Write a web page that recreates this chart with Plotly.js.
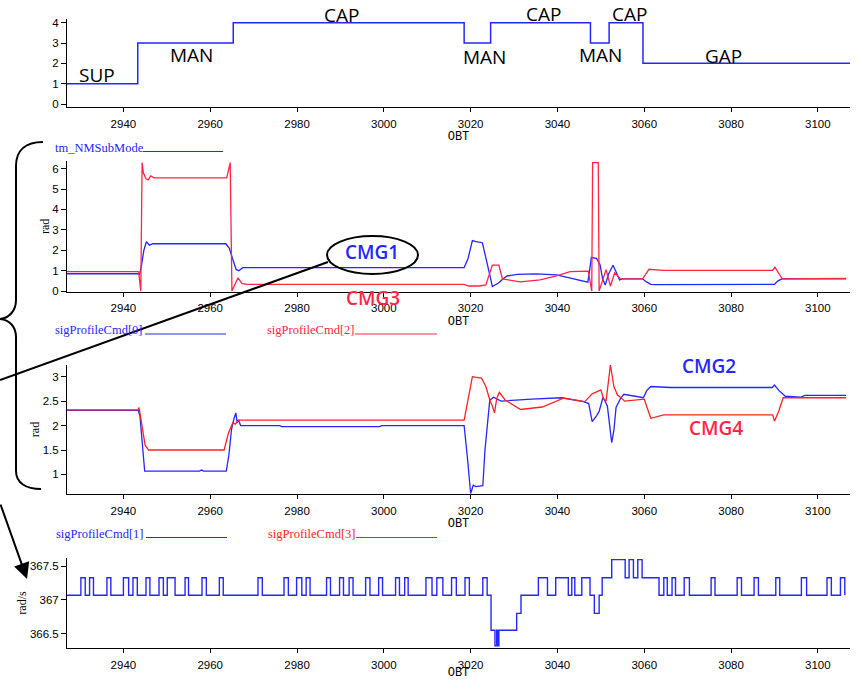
<!DOCTYPE html>
<html><head><meta charset="utf-8">
<script src="https://cdn.plot.ly/plotly-3.0.1.min.js"></script>
<style>html,body{margin:0;padding:0;background:#fff}#chart{width:856px;height:680px}</style>
</head><body><div id="chart"></div>
<script>
// ---------- DATA ----------
const modeT = [2927, 2943.3, 2965.3, 3018.5, 3024.6, 3047.6, 3051.9, 3059.7, 3107.4];
const modeV = [1, 3, 4, 3, 4, 3, 4, 2, 2];
const modeLabels = ['SUP', 'MAN', 'CAP', 'MAN', 'CAP', 'MAN', 'CAP', 'GAP'];

const cmd0T = [2927, 2943.3, 2943.7, 2944.2, 2944.7, 2945.3, 2946.0, 2946.8, 2963.6, 2964.4, 2965.2, 2966.0, 2966.6, 2967.5, 3018.5, 3019.4, 3020.4, 3021.2, 3022.7, 3023.6, 3024.4, 3025.0, 3025.7, 3026.5, 3027.5, 3028.4, 3030.7, 3035.0, 3039.8, 3043.5, 3047.0, 3047.4, 3047.8, 3049.0, 3049.8, 3050.4, 3051.0, 3051.8, 3052.8, 3053.6, 3054.3, 3055.0, 3059.6, 3060.5, 3061.5, 3062.5, 3090.0, 3090.8, 3091.8, 3096.0, 3106.5];
const cmd0V = [0.85, 0.85, 0.8, 1.3, 2.0, 2.42, 2.25, 2.32, 2.32, 2.1, 1.55, 1.05, 1.0, 1.15, 1.15, 1.6, 2.48, 2.42, 2.37, 1.6, 0.8, 0.22, 0.3, 0.41, 0.6, 0.74, 0.82, 0.84, 0.79, 0.62, 0.44, 1.0, 1.64, 1.6, 1.3, 0.6, 0.3, 0.85, 1.27, 0.9, 0.55, 0.6, 0.6, 0.45, 0.33, 0.32, 0.33, 0.5, 0.61, 0.6, 0.6];
const cmd2T = [2927, 2943.5, 2944.0, 2944.3, 2944.6, 2945.2, 2945.7, 2946.3, 2947.0, 2963.8, 2964.6, 2965.0, 2966.4, 2967.3, 2968.5, 3018.5, 3019.5, 3022.0, 3023.5, 3025.0, 3026.5, 3027.3, 3031.4, 3036.0, 3039.8, 3042.9, 3047.1, 3047.9, 3048.1, 3049.4, 3049.6, 3050.4, 3051.2, 3052.2, 3053.2, 3054.5, 3059.6, 3061.1, 3064.2, 3089.6, 3090.1, 3091.8, 3106.5];
const cmd2V = [0.95, 0.95, 0.0, 6.3, 5.8, 5.5, 5.45, 5.65, 5.55, 5.55, 6.3, 0.0, 0.65, 0.38, 0.33, 0.33, 0.25, 0.25, 0.3, 1.27, 1.27, 0.6, 0.45, 0.55, 0.74, 0.95, 0.98, 0.0, 6.3, 6.3, 0.0, 0.5, 1.05, 0.25, 0.9, 0.6, 0.6, 1.07, 1.02, 1.02, 1.17, 0.6, 0.62];

const cmd1T = [2927, 2943.4, 2943.8, 2944.4, 2944.9, 2957.5, 2958, 2958.5, 2963.7, 2964.3, 2964.9, 2965.5, 2965.9, 2966.2, 2966.5, 2967, 2976, 2976.5, 2999, 2999.5, 3018.5, 3019.3, 3020.0, 3020.6, 3021.2, 3022.8, 3023.3, 3024.4, 3025.3, 3027.0, 3030, 3034.0, 3041.0, 3046.0, 3047.2, 3048.0, 3049.0, 3049.6, 3050.5, 3051.5, 3052.5, 3053.0, 3053.5, 3054.5, 3055.3, 3059.8, 3060.6, 3061.5, 3066.0, 3089.5, 3090.0, 3091.0, 3092.5, 3096.0, 3097.0, 3106.5];
const cmd1V = [2.31, 2.31, 2.2, 1.5, 1.07, 1.07, 1.09, 1.07, 1.07, 1.4, 1.92, 2.15, 2.26, 2.06, 2.12, 2.0, 2.0, 1.98, 1.98, 2.0, 2.0, 1.3, 0.61, 0.78, 0.75, 0.77, 1.5, 2.52, 2.58, 2.5, 2.52, 2.54, 2.57, 2.49, 2.45, 2.08, 2.2, 2.29, 2.58, 2.4, 1.65, 1.9, 2.37, 2.55, 2.64, 2.57, 2.72, 2.8, 2.78, 2.78, 2.83, 2.72, 2.6, 2.58, 2.62, 2.62];
const cmd3T = [2927, 2943.3, 2943.6, 2944.2, 2945.0, 2945.8, 2963.2, 2964.2, 2965.2, 2965.8, 2966.5, 3018.5, 3019.4, 3020.4, 3022.5, 3023.5, 3024.5, 3025.0, 3025.5, 3026.0, 3026.6, 3028.0, 3031.5, 3036.5, 3041.4, 3046.3, 3048.0, 3050.0, 3050.6, 3051.2, 3052.2, 3053.0, 3053.8, 3055.5, 3060.0, 3061.5, 3064.5, 3089.6, 3090.0, 3091.0, 3092.0, 3106.5];
const cmd3V = [2.32, 2.32, 2.37, 2.0, 1.6, 1.5, 1.5, 1.85, 2.06, 2.03, 2.11, 2.11, 2.5, 3.0, 2.97, 2.8, 2.5, 2.4, 2.26, 2.55, 2.68, 2.52, 2.33, 2.38, 2.56, 2.49, 2.65, 2.73, 2.55, 2.5, 3.24, 2.8, 2.63, 2.5, 2.54, 2.15, 2.22, 2.22, 2.09, 2.3, 2.57, 2.57];

const rateT = [2927, 2930.2, 2931.2, 2932.2, 2933.1, 2936.2, 2937.1, 2940.0, 2941.2, 2942.2, 2943.2, 2945.2, 2946.1, 2948.2, 2949.2, 2950.1, 2951.9, 2954.2, 2955.0, 2958.1, 2959.1, 2962.1, 2963.0, 2971.0, 2972.0, 2977.0, 2978.0, 2979.9, 2981.1, 2982.1, 2983.0, 2986.8, 2987.7, 2989.8, 2990.7, 2992.0, 2992.9, 2995.8, 2996.8, 2998.8, 2999.7, 3002.7, 3003.6, 3004.8, 3005.6, 3009.7, 3011.1, 3012.2, 3013.6, 3015.6, 3016.7, 3018.7, 3019.7, 3022.8, 3023.8, 3024.7, 3025.6, 3026.0, 3026.2, 3026.5, 3030.6, 3031.6, 3035.6, 3037.7, 3039.6, 3042.5, 3043.3, 3044.0, 3045.6, 3047.5, 3048.5, 3049.6, 3050.3, 3052.5, 3055.6, 3056.5, 3057.5, 3058.5, 3059.5, 3063.4, 3064.5, 3065.3, 3066.4, 3067.2, 3069.2, 3070.4, 3075.4, 3076.3, 3081.4, 3082.4, 3085.3, 3086.3, 3090.3, 3091.2, 3096.2, 3097.4, 3102.1, 3103.1, 3105.2, 3106.2];
const rateV = [367.07,
  367.33, 367.07, 367.33, 367.07, 367.33, 367.07, 367.33, 367.07, 367.33, 367.07,
  367.33, 367.07, 367.33, 367.07, 367.33, 367.07, 367.33, 367.07, 367.33, 367.07,
  367.33, 367.07, 367.33, 367.07, 367.33, 367.07, 367.33, 367.07, 367.33, 367.07,
  367.33, 367.07, 367.33, 367.07, 367.33, 367.07, 367.33, 367.07, 367.33, 367.07,
  367.33, 367.07, 367.33, 367.07, 367.33, 367.07, 367.33, 367.07, 367.33, 367.07,
  367.33, 367.07, 367.33, 367.07,
  366.55, 366.32, 366.55, 366.32, 366.55, 366.8, 367.07,
  367.33, 367.07, 367.33, 367.07, 367.33, 367.07, 367.33, 367.07, 366.8, 367.07,
  367.33, 367.6, 367.33, 367.6, 367.33, 367.6, 367.33, 367.07,
  367.33, 367.07, 367.33, 367.07, 367.33, 367.07, 367.33, 367.07, 367.33, 367.07,
  367.33, 367.07, 367.33, 367.07, 367.33, 367.07, 367.33, 367.07, 367.33, 367.07];

const xTicks = [2940, 2960, 2980, 3000, 3020, 3040, 3060, 3080, 3100];
const legendNames = ['tm_NMSubMode', 'sigProfileCmd[0]', 'sigProfileCmd[2]', 'sigProfileCmd[1]', 'sigProfileCmd[3]'];
const cmgLabels = ['CMG1', 'CMG3', 'CMG2', 'CMG4'];

// ---------- STYLE ----------
const W = 856, H = 680;
const px = x => x / W, py = y => 1 - y / H;
const BLUE = '#2626ff', RED2 = '#ff2448', RED3 = '#ff2222';
const tickFont = {family: 'Liberation Sans, Arial, sans-serif', size: 11.5, color: '#000'};
const obtFont = {family: 'Liberation Mono, Courier New, monospace', size: 12, color: '#000'};
const radFont = {family: 'Liberation Serif, Times New Roman, serif', size: 12, color: '#000'};
const legFont = {family: 'Liberation Serif, Times New Roman, serif', size: 12.5};
const bigFont = {family: 'Open Sans, sans-serif', size: 19, color: '#000'};

function xax(anchor, standoff) {
  return {anchor: anchor, domain: [px(67), px(850)], range: [2927, 3107.4],
    showline: true, linecolor: '#000', linewidth: 1, ticks: 'outside', ticklen: 4, tickcolor: '#000',
    tickvals: xTicks, showgrid: false, zeroline: false, tickfont: tickFont, ticklabelstandoff: 2,
    title: {text: 'OBT', font: obtFont, standoff: standoff}};
}
function yax(anchor, dom, range, dtick, tick0, title, standoff) {
  const a = {anchor: anchor, domain: dom, range: range, showline: true, linecolor: '#000', linewidth: 1,
    ticks: 'outside', ticklen: 5, tickcolor: '#000', dtick: dtick, tick0: tick0, showgrid: false,
    zeroline: false, tickfont: tickFont};
  if (title) a.title = {text: title, font: radFont, standoff: standoff};
  return a;
}

const traces = [
  {x: modeT, y: modeV, name: legendNames[0], type: 'scatter', mode: 'lines', line: {shape: 'hv', color: BLUE, width: 1.5}, xaxis: 'x', yaxis: 'y'},
  {x: cmd0T, y: cmd0V, name: legendNames[1], type: 'scatter', mode: 'lines', line: {color: BLUE, width: 1.3}, xaxis: 'x2', yaxis: 'y2'},
  {x: cmd2T, y: cmd2V, name: legendNames[2], type: 'scatter', mode: 'lines', line: {color: RED2, width: 1.3}, xaxis: 'x2', yaxis: 'y2'},
  {x: cmd1T, y: cmd1V, name: legendNames[3], type: 'scatter', mode: 'lines', line: {color: BLUE, width: 1.3}, xaxis: 'x3', yaxis: 'y3'},
  {x: cmd3T, y: cmd3V, name: legendNames[4], type: 'scatter', mode: 'lines', line: {color: RED3, width: 1.3}, xaxis: 'x3', yaxis: 'y3'},
  {x: rateT, y: rateV, name: 'rad/s', type: 'scatter', mode: 'lines', line: {shape: 'hv', color: BLUE, width: 1.4}, xaxis: 'x4', yaxis: 'y4'}
];

// mode label positions (pixel centres)
const modeLabelPos = [[97, 75], [191, 55], [341, 15], [485, 57], [543, 14], [600, 55], [629, 14], [723, 56]];
const annotations = modeLabels.map((t, i) => ({text: t, x: px(modeLabelPos[i][0]), y: py(modeLabelPos[i][1]),
  xref: 'paper', yref: 'paper', xanchor: 'center', yanchor: 'middle', showarrow: false, font: bigFont}));

const cmgPos = [[372, 252, BLUE], [373, 298, RED2], [709, 366, BLUE], [716, 428, RED2]];
cmgLabels.forEach((t, i) => annotations.push({text: t, x: px(cmgPos[i][0]), y: py(cmgPos[i][1]), xref: 'paper', yref: 'paper',
  xanchor: 'center', yanchor: 'middle', showarrow: false, font: {family: 'Open Sans, sans-serif', size: 19, weight: 600, color: cmgPos[i][2]}}));

// legend-like rows
const legPos = [[53, 147.5, BLUE, 143, 223, 151.5], [53, 330, BLUE, 145, 226, 334], [265, 330, RED2, 355, 437, 334],
                [54, 534, BLUE, 146, 227, 537.5], [266, 534, RED3, 356, 437, 537.5]];
const shapes = [];
legendNames.forEach((t, i) => {
  const p = legPos[i];
  annotations.push({text: t, x: px(p[0]), y: py(p[1]), xref: 'paper', yref: 'paper', xanchor: 'left', yanchor: 'middle',
    showarrow: false, font: Object.assign({color: p[2]}, legFont)});
  shapes.push({type: 'line', xref: 'paper', yref: 'paper', x0: px(p[3]), x1: px(p[4]), y0: py(p[5]), y1: py(p[5]), line: {color: p[2], width: 1}});
});

// arrow to the rate panel
annotations.push({text: '', x: px(27), y: py(579), xref: 'paper', yref: 'paper', ax: -29, ay: -76,
  showarrow: true, arrowhead: 2, arrowsize: 1.6, arrowwidth: 2, arrowcolor: '#000'});

// curly brace
const bp = [[43,142],[26,142],[16,150],[16,166],[16,300],[16,311],[9,318],[0,319],[9,320],[16,326],[16,337],[16,471],[16,483],[26,489],[41,489]];
const P = i => px(bp[i][0]) + ',' + py(bp[i][1]);
shapes.push({type: 'path', xref: 'paper', yref: 'paper', line: {color: '#000', width: 2},
  path: 'M' + P(0) + ' C' + P(1) + ' ' + P(2) + ' ' + P(3) + ' L' + P(4) + ' C' + P(5) + ' ' + P(6) + ' ' + P(7) +
        ' C' + P(8) + ' ' + P(9) + ' ' + P(10) + ' L' + P(11) + ' C' + P(12) + ' ' + P(13) + ' ' + P(14)});
// pointer line to the CMG1 ellipse
shapes.push({type: 'line', xref: 'paper', yref: 'paper', x0: px(0), y0: py(380), x1: px(328), y1: py(262), line: {color: '#000', width: 2}});
// ellipse round CMG1
shapes.push({type: 'circle', xref: 'paper', yref: 'paper', x0: px(327), x1: px(418), y0: py(274), y1: py(236), line: {color: '#000', width: 2}});

const layout = {
  width: W, height: H, margin: {l: 0, r: 0, t: 0, b: 0}, showlegend: false,
  paper_bgcolor: '#fff', plot_bgcolor: '#fff',
  xaxis: xax('y', 2.5), yaxis: yax('x', [py(107.3), py(19)], [-0.16, 4.18], 1, 0, null, 0),
  xaxis2: xax('y2', 2.5), yaxis2: yax('x2', [py(291.5), py(161.1)], [-0.02, 6.37], 1, 0, 'rad', 0),
  xaxis3: xax('y3', 2.5), yaxis3: yax('x3', [py(494), py(365)], [0.6, 3.24], 0.5, 1, 'rad', 0),
  xaxis4: xax('y4', 7), yaxis4: yax('x4', [py(647.7), py(558.3)], [366.29, 367.62], 0.5, 366.5, 'rad/s', 0),
  annotations: annotations, shapes: shapes
};
Plotly.newPlot('chart', traces, layout, {staticPlot: true, displayModeBar: false});
</script></body></html>
